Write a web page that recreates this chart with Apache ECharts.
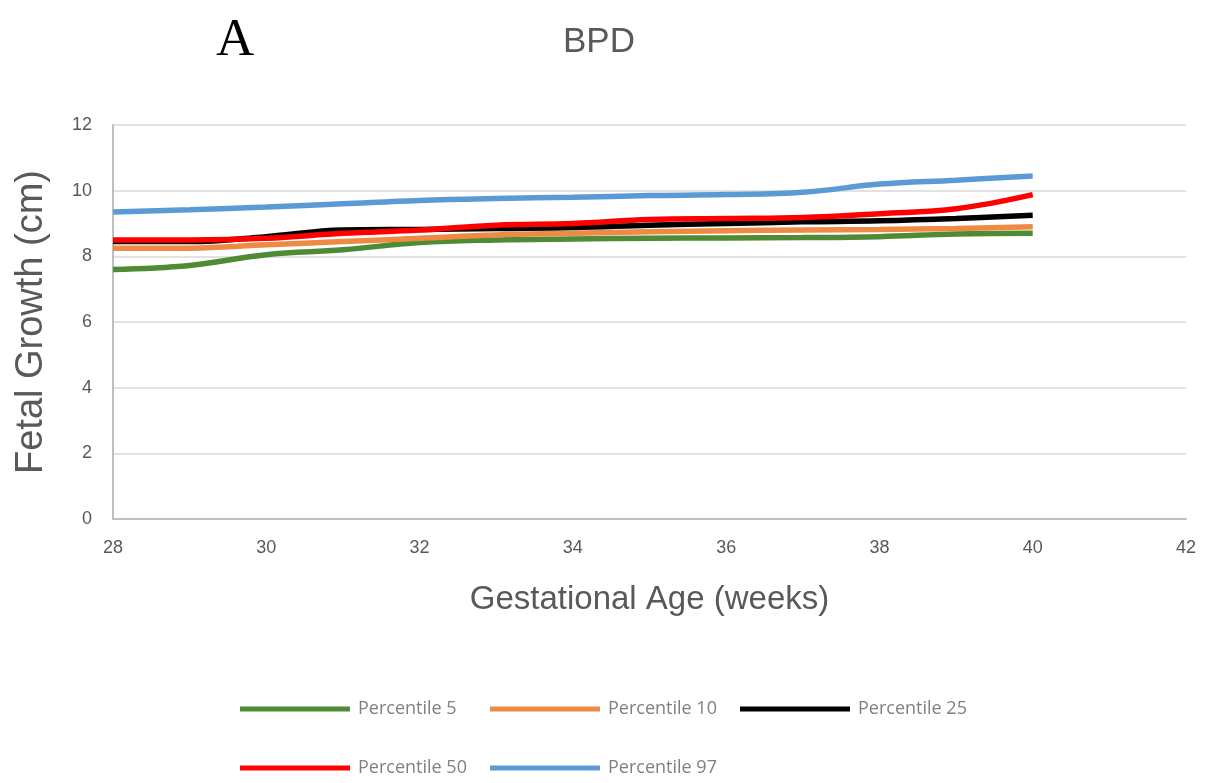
<!DOCTYPE html>
<html>
<head>
<meta charset="utf-8">
<title>BPD</title>
<script src="https://cdn.jsdelivr.net/npm/echarts@6/dist/echarts.min.js"></script>
<style>
  html, body { margin: 0; padding: 0; background: #fff; }
  #chart { width: 1209px; height: 783px; }
</style>
</head>
<body>
<div id="chart"></div>
<script>
// Gestational age (weeks) and BPD percentiles (cm)
const weeks = [28, 29, 30, 31, 32, 33, 34, 35, 36, 37, 38, 39, 40];
const p5  = [7.6, 7.72, 8.05, 8.2, 8.42, 8.5, 8.53, 8.55, 8.56, 8.57, 8.6, 8.68, 8.7];
const p10 = [8.25, 8.25, 8.35, 8.45, 8.55, 8.65, 8.7, 8.75, 8.78, 8.8, 8.82, 8.85, 8.9];
const p25 = [8.45, 8.45, 8.6, 8.8, 8.82, 8.85, 8.88, 8.95, 9.0, 9.05, 9.08, 9.15, 9.25];
const p50 = [8.5, 8.5, 8.55, 8.7, 8.8, 8.95, 9.0, 9.12, 9.15, 9.18, 9.3, 9.45, 9.88];
const p97 = [9.35, 9.42, 9.5, 9.6, 9.7, 9.76, 9.8, 9.85, 9.88, 9.95, 10.2, 10.32, 10.45];

const seriesNames = ['Percentile 5', 'Percentile 10', 'Percentile 25', 'Percentile 50', 'Percentile 97'];
const seriesValues = [p5, p10, p25, p50, p97];
const seriesColors = ['#4f8a34', '#ef8a45', '#000000', '#ff0000', '#5b9bd5'];

const chart = echarts.init(document.getElementById('chart'));

const series = seriesNames.map((name, i) => ({
  name: name,
  type: 'line',
  smooth: 0.4,
  showSymbol: false,
  color: seriesColors[i],
  lineStyle: { width: 5.5, color: seriesColors[i] },
  data: weeks.map((w, j) => [w, seriesValues[i][j]])
}));

// one legend per entry so they sit in fixed 250px columns, 3 per row
const legends = seriesNames.map((name, i) => ({
  data: [name],
  left: 240 + (i % 3) * 250,
  top: i < 3 ? 700 : 759,
  padding: 0,
  icon: 'rect',
  itemWidth: 110,
  itemHeight: 5,
  textStyle: {
    color: '#7f7f86',
    fontFamily: 'Open Sans',
    fontSize: 18,
    padding: [0, 0, 0, 3]
  }
}));

const option = {
  backgroundColor: '#fff',
  animation: false,
  title: [
    {
      text: 'A',
      left: 211,
      top: 10,
      textStyle: { fontFamily: 'Liberation Serif', fontSize: 53, fontWeight: 'normal', color: '#000' }
    },
    {
      text: 'BPD',
      left: 594,
      textAlign: 'center',
      top: 20,
      textStyle: { fontFamily: 'Liberation Sans', fontSize: 35, fontWeight: 'normal', color: '#595959' }
    }
  ],
  legend: legends,
  grid: { left: 113, right: 23, top: 125, bottom: 264 },
  xAxis: {
    type: 'value',
    min: 28,
    max: 42,
    interval: 2,
    name: 'Gestational Age (weeks)',
    nameLocation: 'middle',
    nameGap: 64,
    nameTextStyle: { fontFamily: 'Liberation Sans', fontSize: 33, color: '#595959' },
    axisLine: { show: true, lineStyle: { color: '#bfbfbf', width: 2 } },
    axisTick: { show: false },
    splitLine: { show: false },
    axisLabel: { margin: 20, fontFamily: 'Liberation Sans', fontSize: 18, color: '#595959' }
  },
  yAxis: {
    type: 'value',
    min: 0,
    max: 12,
    interval: 2,
    name: 'Fetal Growth (cm)',
    nameLocation: 'middle',
    nameGap: 62,
    nameTextStyle: { fontFamily: 'Liberation Sans', fontSize: 38, color: '#595959' },
    axisLine: { show: true, lineStyle: { color: '#bfbfbf', width: 2 } },
    axisTick: { show: false },
    splitLine: { show: true, lineStyle: { color: '#d9d9d9', width: 1.5 } },
    axisLabel: { margin: 21, fontFamily: 'Liberation Sans', fontSize: 18, color: '#595959' }
  },
  series: series
};

chart.setOption(option);
</script>
</body>
</html>
